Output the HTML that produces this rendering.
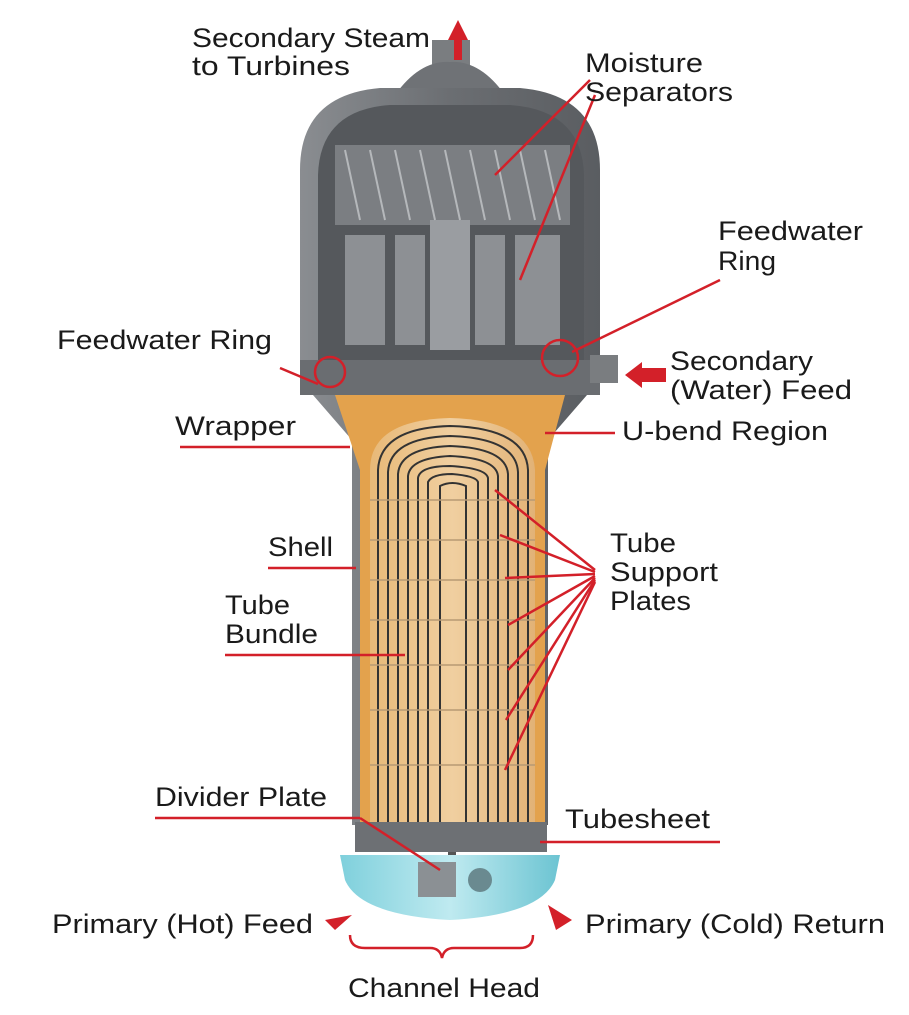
<!DOCTYPE html>
<html><head><meta charset="utf-8"><style>
html,body{margin:0;padding:0;background:#fff;}
svg{display:block}
text{font-family:"Liberation Sans",sans-serif;font-size:27px;fill:#1a1a1a}
</style></head><body>
<svg width="909" height="1015" viewBox="0 0 909 1015" xmlns="http://www.w3.org/2000/svg">
<defs>
<linearGradient id="sh" x1="0" x2="1"><stop offset="0" stop-color="#8a8d91"/><stop offset="0.5" stop-color="#6b6e72"/><stop offset="1" stop-color="#5a5d61"/></linearGradient>
<linearGradient id="tb" x1="0" x2="1"><stop offset="0" stop-color="#e8b978"/><stop offset="0.5" stop-color="#f0cfa0"/><stop offset="1" stop-color="#e2b276"/></linearGradient>
<linearGradient id="cy" x1="0" x2="1"><stop offset="0" stop-color="#7fd0dc"/><stop offset="0.5" stop-color="#bfeaf0"/><stop offset="1" stop-color="#6cc4d2"/></linearGradient>
</defs>
<rect x="432" y="40" width="38" height="28" fill="#7a7d80"/>
<path d="M395 95 Q420 60 450 62 Q480 60 505 95 Z" fill="#6f7276"/>
<path d="M300 170 Q300 95 380 88 L520 88 Q600 95 600 170 L600 380 L548 440 L548 825 L352 825 L352 440 L300 380 Z" fill="url(#sh)"/>
<path d="M318 175 Q320 110 390 105 L510 105 Q582 110 584 175 L584 360 L318 360 Z" fill="#55585c"/>
<g fill="#8d9094">
<rect x="335" y="145" width="235" height="80" fill="#7b7e82"/>
<rect x="345" y="235" width="40" height="110"/><rect x="395" y="235" width="30" height="110"/>
<rect x="475" y="235" width="30" height="110"/><rect x="515" y="235" width="45" height="110"/>
<rect x="430" y="220" width="40" height="130" fill="#9a9da1"/>
</g>
<g stroke="#b5b8bb" stroke-width="2">
<line x1="345" y1="150" x2="360" y2="220"/><line x1="370" y1="150" x2="385" y2="220"/><line x1="395" y1="150" x2="410" y2="220"/><line x1="420" y1="150" x2="435" y2="220"/><line x1="445" y1="150" x2="460" y2="220"/><line x1="470" y1="150" x2="485" y2="220"/><line x1="495" y1="150" x2="510" y2="220"/><line x1="520" y1="150" x2="535" y2="220"/><line x1="545" y1="150" x2="560" y2="220"/>
</g>
<rect x="300" y="360" width="300" height="35" fill="#6a6d71"/>
<rect x="590" y="355" width="28" height="28" fill="#7a7d80"/>
<path d="M335 395 L565 395 L545 470 L545 825 L360 825 L360 470 Z" fill="#e3a24d"/>
<path d="M370 825 L370 470 Q370 420 450 418 Q532 420 535 470 L535 825 Z" fill="url(#tb)"/>
<g fill="none" stroke="#333" stroke-width="2">
<path d="M378 825 L378 470 Q380 428 450 426 Q526 428 528 470 L528 825"/>
<path d="M388 825 L388 472 Q390 438 450 436 Q516 438 518 472 L518 825"/>
<path d="M398 825 L398 474 Q400 448 450 446 Q506 448 508 474 L508 825"/>
<path d="M408 825 L408 476 Q410 458 450 456 Q496 458 498 476 L498 825"/>
<path d="M418 825 L418 478 Q420 466 450 466 Q486 468 488 478 L488 825"/>
<path d="M428 825 L428 482 Q432 474 452 474 Q476 476 478 482 L478 825"/>
<path d="M440 825 L440 486 Q452 480 466 486 L466 825"/>
</g>
<g stroke="#b79a74" stroke-width="1.5">
<line x1="370" y1="500" x2="535" y2="500"/><line x1="370" y1="540" x2="535" y2="540"/><line x1="370" y1="580" x2="535" y2="580"/><line x1="370" y1="620" x2="535" y2="620"/><line x1="370" y1="665" x2="535" y2="665"/><line x1="370" y1="710" x2="535" y2="710"/><line x1="370" y1="765" x2="535" y2="765"/>
</g>
<rect x="355" y="822" width="192" height="30" fill="#6d7074"/>
<rect x="448" y="852" width="8" height="40" fill="#555"/>
<path d="M340 855 L560 855 L555 880 Q540 915 450 920 Q360 915 345 880 Z" fill="url(#cy)"/>
<rect x="418" y="862" width="38" height="35" fill="#8b9094"/>
<circle cx="480" cy="880" r="12" fill="#6a8a90"/>
<circle cx="330" cy="372" r="15" fill="none" stroke="#d32029" stroke-width="2.5"/>
<circle cx="560" cy="358" r="18" fill="none" stroke="#d32029" stroke-width="2.5"/>
<g stroke="#d32029" stroke-width="2.5" fill="none">
<line x1="590" y1="80" x2="495" y2="175"/><line x1="595" y1="95" x2="520" y2="280"/>
<line x1="720" y1="280" x2="572" y2="352"/>
<line x1="280" y1="368" x2="318" y2="384"/>
<line x1="180" y1="447" x2="350" y2="447"/><line x1="615" y1="433" x2="545" y2="433"/>
<line x1="268" y1="568" x2="356" y2="568"/><line x1="225" y1="655" x2="405" y2="655"/>
<line x1="595" y1="570" x2="495" y2="490"/><line x1="595" y1="572" x2="500" y2="535"/><line x1="595" y1="574" x2="505" y2="578"/><line x1="595" y1="576" x2="508" y2="625"/><line x1="595" y1="578" x2="508" y2="670"/><line x1="595" y1="580" x2="506" y2="720"/><line x1="595" y1="582" x2="505" y2="770"/>
<line x1="155" y1="818" x2="360" y2="818"/><line x1="360" y1="818" x2="440" y2="870"/>
<line x1="540" y1="842" x2="720" y2="842"/>
<path d="M350 935 Q350 948 365 948 L430 948 Q440 948 442 958 Q444 948 454 948 L520 948 Q533 948 533 935"/>
</g>
<g fill="#d32029">
<polygon points="448,40 458,20 468,40 462,40 462,60 454,60 454,40"/>
<polygon points="625,375 642,362 642,368 666,368 666,382 642,382 642,388"/>
<polygon points="352,915 325,920 335,930"/>
<polygon points="548,905 572,920 556,930"/>
</g>
<text x="192" y="47" textLength="238" lengthAdjust="spacingAndGlyphs">Secondary Steam</text>
<text x="192" y="75" textLength="158" lengthAdjust="spacingAndGlyphs">to Turbines</text>
<text x="585" y="72" textLength="118" lengthAdjust="spacingAndGlyphs">Moisture</text>
<text x="585" y="101" textLength="148" lengthAdjust="spacingAndGlyphs">Separators</text>
<text x="718" y="240" textLength="145" lengthAdjust="spacingAndGlyphs">Feedwater</text>
<text x="718" y="270" textLength="58" lengthAdjust="spacingAndGlyphs">Ring</text>
<text x="57" y="349" textLength="215" lengthAdjust="spacingAndGlyphs">Feedwater Ring</text>
<text x="670" y="370" textLength="143" lengthAdjust="spacingAndGlyphs">Secondary</text>
<text x="670" y="399" textLength="182" lengthAdjust="spacingAndGlyphs">(Water) Feed</text>
<text x="175" y="435" textLength="121" lengthAdjust="spacingAndGlyphs">Wrapper</text>
<text x="622" y="440" textLength="206" lengthAdjust="spacingAndGlyphs">U-bend Region</text>
<text x="268" y="556" textLength="65" lengthAdjust="spacingAndGlyphs">Shell</text>
<text x="610" y="552" textLength="66" lengthAdjust="spacingAndGlyphs">Tube</text>
<text x="610" y="581" textLength="108" lengthAdjust="spacingAndGlyphs">Support</text>
<text x="610" y="610" textLength="81" lengthAdjust="spacingAndGlyphs">Plates</text>
<text x="225" y="614" textLength="65" lengthAdjust="spacingAndGlyphs">Tube</text>
<text x="225" y="643" textLength="93" lengthAdjust="spacingAndGlyphs">Bundle</text>
<text x="155" y="806" textLength="172" lengthAdjust="spacingAndGlyphs">Divider Plate</text>
<text x="565" y="828" textLength="145" lengthAdjust="spacingAndGlyphs">Tubesheet</text>
<text x="52" y="933" textLength="261" lengthAdjust="spacingAndGlyphs">Primary (Hot) Feed</text>
<text x="585" y="933" textLength="300" lengthAdjust="spacingAndGlyphs">Primary (Cold) Return</text>
<text x="348" y="997" textLength="192" lengthAdjust="spacingAndGlyphs">Channel Head</text>
</svg>
</body></html>
